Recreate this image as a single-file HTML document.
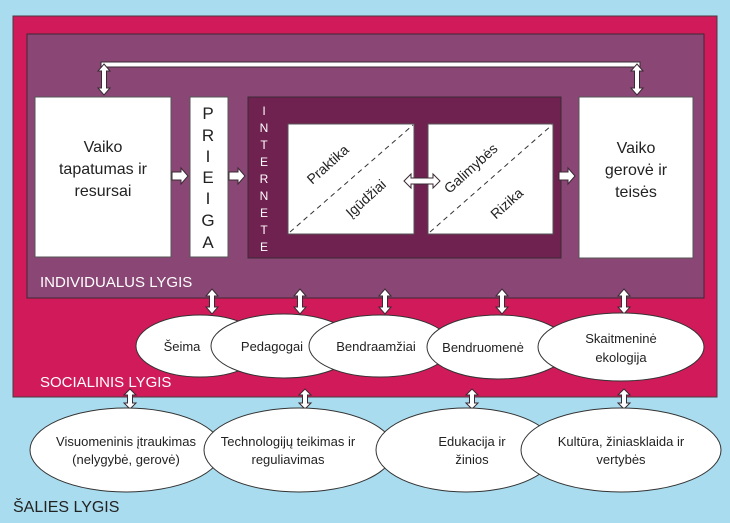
<!DOCTYPE html>
<html><head><meta charset="utf-8"><style>
html,body{margin:0;padding:0;background:#a9dcee;}
svg{display:block;}
text{font-family:"Liberation Sans",sans-serif;}
</style></head><body>
<svg width="730" height="523" viewBox="0 0 730 523" xmlns="http://www.w3.org/2000/svg">
<defs>
<path id="va" d="M0,0 L6,7 L2.5,7 L2.5,18 L6,18 L0,25 L-6,18 L-2.5,18 L-2.5,7 L-6,7 Z" fill="#fff" stroke="#3a2a33" stroke-width="1"/>
<path id="vb" d="M0,0 L6,6 L2.5,6 L2.5,14 L6,14 L0,20 L-6,14 L-2.5,14 L-2.5,6 L-6,6 Z" fill="#fff" stroke="#3a2a33" stroke-width="1"/>
<path id="ra" d="M0,-4 L9,-4 L9,-8 L16,0 L9,8 L9,4 L0,4 Z" fill="#fff" stroke="#3a2a33" stroke-width="1"/>
</defs>
<rect width="730" height="523" fill="#a9dcee"/>
<rect x="13" y="16" width="704" height="381" fill="#d11a5a" stroke="#4a3a40" stroke-width="1"/>
<rect x="27" y="34" width="677" height="264" fill="#8a4776" stroke="#3a2a33" stroke-width="1"/>

<rect x="101" y="62" width="539" height="5" fill="#fff" stroke="#3a2a33" stroke-width="1"/>
<path d="M104,64 L110,71 L106.5,71 L106.5,88 L110,88 L104,95 L98,88 L101.5,88 L101.5,71 L98,71 Z" fill="#fff" stroke="#3a2a33"/>
<path d="M637,64 L643,71 L639.5,71 L639.5,88 L643,88 L637,95 L631,88 L634.5,88 L634.5,71 L631,71 Z" fill="#fff" stroke="#3a2a33"/>

<rect x="35" y="97" width="136" height="160" fill="#fff" stroke="#555" stroke-width="1"/>
<rect x="190" y="97" width="38" height="160" fill="#fff" stroke="#555" stroke-width="1"/>
<rect x="248" y="97" width="313" height="161" fill="#6f2150" stroke="#3a2a33" stroke-width="1"/>
<rect x="288" y="124" width="126" height="110" fill="#fff" stroke="#555"/>
<rect x="428" y="124" width="125" height="110" fill="#fff" stroke="#555"/>
<rect x="579" y="97" width="114" height="161" fill="#fff" stroke="#555" stroke-width="1"/>
<line x1="290" y1="232" x2="413" y2="125" stroke="#333" stroke-dasharray="5,4"/>
<line x1="430" y1="232" x2="552" y2="125" stroke="#333" stroke-dasharray="5,4"/>

<use href="#ra" x="172" y="176"/>
<use href="#ra" x="229" y="176"/>
<use href="#ra" x="559" y="176"/>
<path d="M404,181 L411,174 L411,178 L433,178 L433,174 L440,181 L433,188 L433,184 L411,184 L411,188 Z" fill="#fff" stroke="#3a2a33"/>

<g font-size="16" fill="#222" text-anchor="middle">
<text x="103" y="152">Vaiko</text>
<text x="103" y="174">tapatumas ir</text>
<text x="103" y="196">resursai</text>
<text x="636" y="153">Vaiko</text>
<text x="636" y="175">gerovė ir</text>
<text x="636" y="197">teisės</text>
</g>
<g font-size="17" fill="#222" text-anchor="middle">
<text x="208" y="119">P</text><text x="208" y="141">R</text><text x="208" y="162">I</text><text x="208" y="183">E</text><text x="208" y="204">I</text><text x="208" y="226">G</text><text x="208" y="248">A</text>
</g>
<g font-size="12" fill="#fff" text-anchor="middle">
<text x="264" y="115">I</text><text x="264" y="132">N</text><text x="264" y="149">T</text><text x="264" y="166">E</text><text x="264" y="183">R</text><text x="264" y="200">N</text><text x="264" y="217">E</text><text x="264" y="234">T</text><text x="264" y="251">E</text>
</g>
<g font-size="14" fill="#222" text-anchor="middle">
<text transform="translate(331,168) rotate(-42)">Praktika</text>
<text transform="translate(369,202) rotate(-42)">Įgūdžiai</text>
<text transform="translate(474,172) rotate(-42)">Galimybės</text>
<text transform="translate(510,207) rotate(-42)">Rizika</text>
</g>
<text x="40" y="287" font-size="15" fill="#fff">INDIVIDUALUS LYGIS</text>

<use href="#va" x="212" y="289"/>
<use href="#va" x="300" y="289"/>
<use href="#va" x="385" y="289"/>
<use href="#va" x="502" y="289"/>
<use href="#va" x="624" y="289"/>

<g fill="#fff" stroke="#333" stroke-width="1">
<ellipse cx="200" cy="346" rx="64" ry="31"/>
<ellipse cx="284" cy="346" rx="73" ry="32"/>
<ellipse cx="380" cy="346" rx="71" ry="31"/>
<ellipse cx="498" cy="347" rx="71" ry="32"/>
<ellipse cx="621" cy="347" rx="83" ry="34"/>
</g>
<g font-size="13" fill="#222" text-anchor="middle">
<text x="182" y="351">Šeima</text>
<text x="272" y="351">Pedagogai</text>
<text x="376" y="351">Bendraamžiai</text>
<text x="483" y="352">Bendruomenė</text>
<text x="621" y="343">Skaitmeninė</text>
<text x="621" y="362">ekologija</text>
</g>
<text x="40" y="387" font-size="15" fill="#fff">SOCIALINIS LYGIS</text>

<use href="#vb" x="130" y="389"/>
<use href="#vb" x="305" y="389"/>
<use href="#vb" x="472" y="389"/>
<use href="#vb" x="624" y="389"/>

<g fill="#fff" stroke="#333" stroke-width="1">
<ellipse cx="126" cy="450" rx="96" ry="42"/>
<ellipse cx="299" cy="450" rx="95" ry="42"/>
<ellipse cx="466" cy="450" rx="90" ry="42"/>
<ellipse cx="621" cy="450" rx="100" ry="42"/>
</g>
<g font-size="13" fill="#222" text-anchor="middle">
<text x="126" y="446">Visuomeninis įtraukimas</text>
<text x="126" y="464">(nelygybė, gerovė)</text>
<text x="288" y="446">Technologijų teikimas ir</text>
<text x="288" y="464">reguliavimas</text>
<text x="472" y="446">Edukacija ir</text>
<text x="472" y="464">žinios</text>
<text x="621" y="446">Kultūra, žiniasklaida ir</text>
<text x="621" y="464">vertybės</text>
</g>
<text x="13" y="512" font-size="16" fill="#222">ŠALIES LYGIS</text>
</svg>
</body></html>
